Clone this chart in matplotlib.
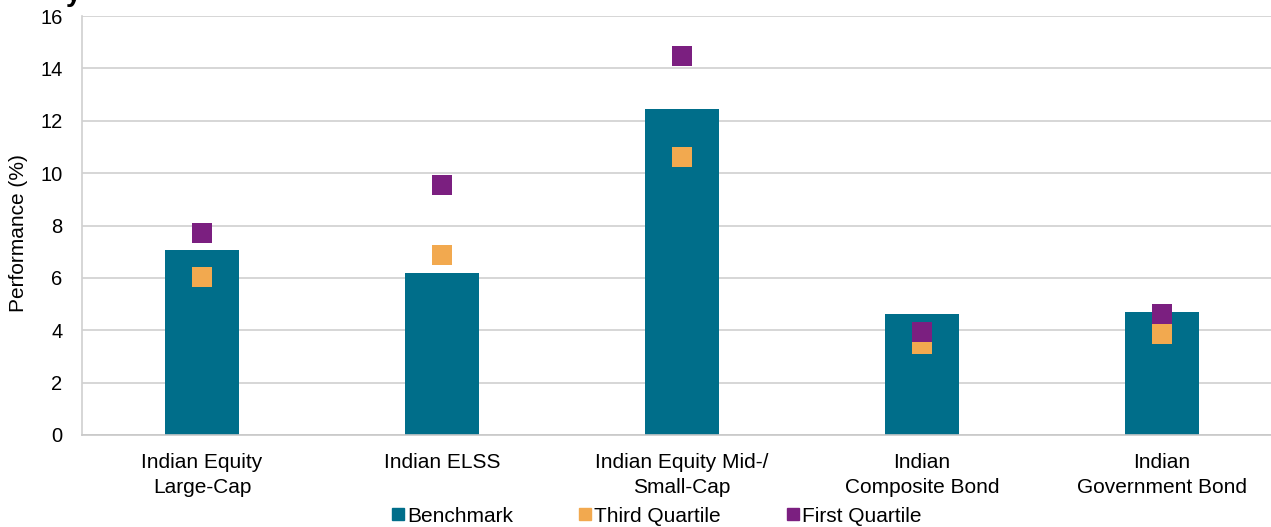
import matplotlib
matplotlib.use("Agg")
import matplotlib.pyplot as plt
from matplotlib.lines import Line2D
import numpy as np

categories = ["Indian Equity\nLarge-Cap", "Indian ELSS", "Indian Equity Mid-/\nSmall-Cap",
              "Indian\nComposite Bond", "Indian\nGovernment Bond"]
benchmark = [7.06, 6.19, 12.45, 4.62, 4.70]
third_quartile = [6.03, 6.87, 10.61, 3.47, 3.86]
first_quartile = [7.71, 9.55, 14.47, 3.93, 4.62]
yticks = [0, 2, 4, 6, 8, 10, 12, 14, 16]

c_bench = "#006E8A"
c_third = "#F2A94F"
c_first = "#7B1F80"

plt.rcParams['font.family'] = ['Liberation Sans', 'DejaVu Sans']
FS = 15

fig = plt.figure(figsize=(12.71, 5.27), dpi=100)
ax = fig.add_axes([82/1271, 92/527, 1200/1271, 419/527])

x = np.arange(len(categories))
ax.bar(x, benchmark, width=0.31, color=c_bench, zorder=2)
ax.scatter(x, third_quartile, marker='s', s=200, color=c_third, zorder=3, linewidths=0)
ax.scatter(x, first_quartile, marker='s', s=200, color=c_first, zorder=4, linewidths=0)

ax.set_xlim(-0.5, len(categories) - 0.5)
ax.set_ylim(0, 16)
ax.set_yticks(yticks)
ax.set_yticklabels([str(v) for v in yticks], fontsize=14.5)
ax.set_xticks(x)
ax.set_xticklabels(categories, fontsize=FS, linespacing=1.4)
ax.tick_params(axis='x', length=0, pad=13)
ax.tick_params(axis='y', length=0, pad=14)
ax.yaxis.grid(True, color="#D0D0D0", linewidth=1.2, zorder=0)
ax.set_axisbelow(True)
for s in ['top', 'right']:
    ax.spines[s].set_visible(False)
ax.spines['left'].set_color("#D0D0D0")
ax.spines['bottom'].set_color("#C8C8C8")
ax.spines['left'].set_linewidth(1.2)
ax.spines['bottom'].set_linewidth(1.2)
ax.set_ylabel("Performance (%)", fontsize=FS)
ax.yaxis.set_label_coords(-54/1200, 0.482)

handles = [Line2D([], [], marker='s', linestyle='', color=c, markersize=8.5)
           for c in (c_bench, c_third, c_first)]
fig.legend(handles, ["Benchmark", "Third Quartile", "First Quartile"],
           loc='center', bbox_to_anchor=(656/1271, 1 - 516/527), ncol=3,
           frameon=False, fontsize=FS, handletextpad=0.1, columnspacing=3.1,
           handlelength=0.7, borderpad=0.2)

fig.text(66/1271, 1.012, "y", fontsize=20, fontweight='bold', va='center', ha='left')

fig.savefig("out.png", dpi=100)
